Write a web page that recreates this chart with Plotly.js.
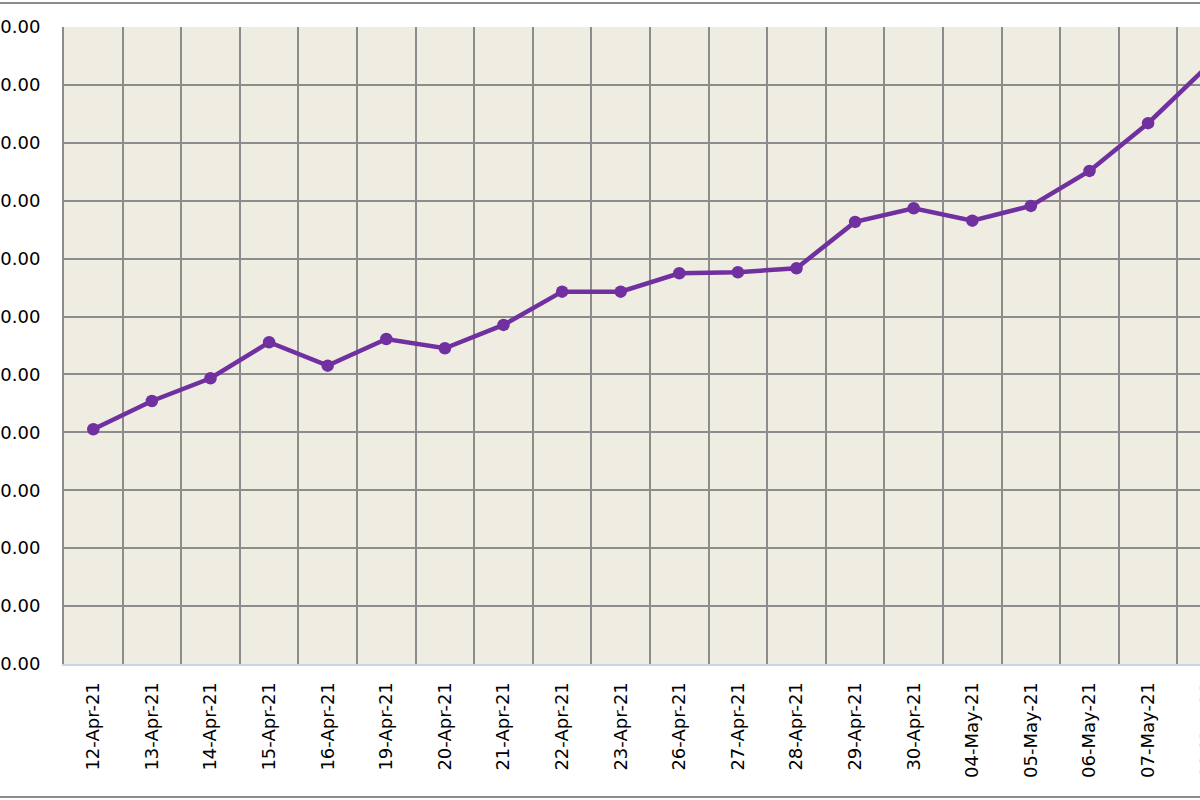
<!DOCTYPE html>
<html>
<head>
<meta charset="utf-8">
<script src="https://cdn.plot.ly/plotly-3.0.1.min.js"></script>
<style>
  html, body { margin: 0; padding: 0; overflow: hidden; background: #fff; }
  #chart { width: 1236px; height: 800px; }
</style>
</head>
<body>
<div id="chart"></div>
<script>
// Trading days shown on the category axis
var dates = [
  "12-Apr-21", "13-Apr-21", "14-Apr-21", "15-Apr-21", "16-Apr-21",
  "19-Apr-21", "20-Apr-21", "21-Apr-21", "22-Apr-21", "23-Apr-21",
  "26-Apr-21", "27-Apr-21", "28-Apr-21", "29-Apr-21", "30-Apr-21",
  "04-May-21", "05-May-21", "06-May-21", "07-May-21", "08-May-21"
];

// Values
var values = [
  405.4, 454.2, 493.4, 555.6, 515.2,
  561.3, 545.3, 585.5, 643.0, 643.0,
  674.8, 676.5, 683.4, 763.4, 787.0,
  765.6, 791.0, 851.5, 933.9, 1031.0
];

// Value axis ticks
var yTicks = [0, 100, 200, 300, 400, 500, 600, 700, 800, 900, 1000, 1100];

var series = {
  type: "scatter",
  mode: "lines+markers",
  x: dates,
  y: values,
  line: { color: "#7030A0", width: 4.5 },
  marker: { color: "#7030A0", size: 12.5 },
  hoverinfo: "x+y"
};

var layout = {
  width: 1236,
  height: 800,
  margin: { l: 64, r: 0, t: 27, b: 136 },
  paper_bgcolor: "#ffffff",
  plot_bgcolor: "#EFEDE2",
  showlegend: false,
  font: { family: "DejaVu Sans, Verdana, sans-serif", size: 18, color: "#000" },
  xaxis: {
    type: "category",
    range: [-0.5, dates.length - 0.5],
    tickson: "boundaries",
    ticks: "",
    tickangle: -90,
    showgrid: true,
    gridcolor: "#8c8c8c",
    gridwidth: 2,
    showline: true,
    linecolor: "#c8d4e6",
    linewidth: 2,
    ticklabelstandoff: 9,
    tickfont: { size: 18 },
    fixedrange: true
  },
  yaxis: {
    range: [0, 1100],
    tickvals: yTicks,
    tickformat: ".2f",
    ticks: "",
    showgrid: true,
    gridcolor: "#8c8c8c",
    gridwidth: 2,
    zeroline: false,
    showline: true,
    linecolor: "#8c8c8c",
    linewidth: 2,
    ticklabelstandoff: 18,
    tickfont: { size: 18 },
    fixedrange: true
  },
  // outer chart border (top and bottom edges)
  shapes: [
    { type: "line", xref: "paper", yref: "paper", x0: -0.1, x1: 1.1, y0: 1.0377, y1: 1.0377,
      line: { color: "#8c8c8c", width: 2 } },
    { type: "line", xref: "paper", yref: "paper", x0: -0.1, x1: 1.1, y0: -0.2088, y1: -0.2088,
      line: { color: "#8c8c8c", width: 2 } }
  ]
};

Plotly.newPlot("chart", [series], layout, { displayModeBar: false, staticPlot: true });
</script>
</body>
</html>
